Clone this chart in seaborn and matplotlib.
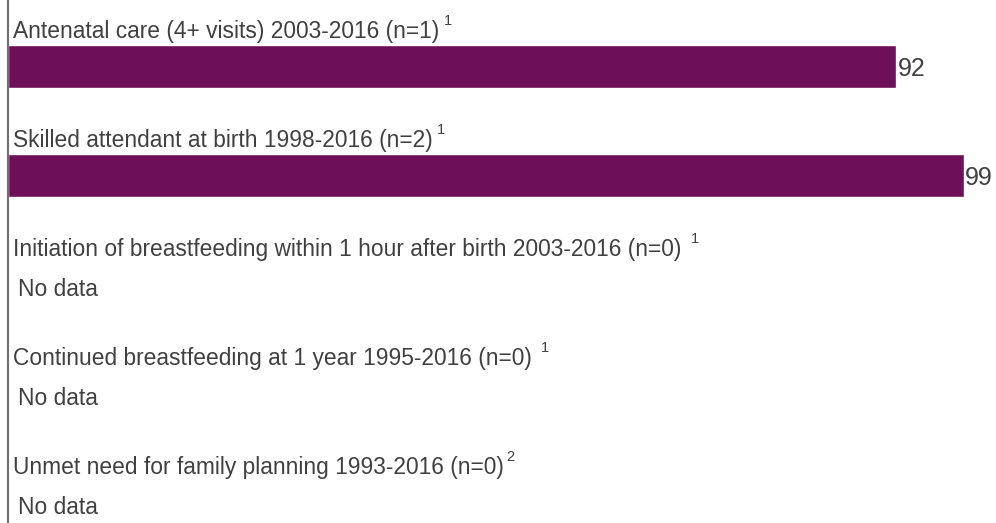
import matplotlib
matplotlib.use("Agg")
import matplotlib.pyplot as plt
import numpy as np
import pandas as pd
import seaborn as sns

# ---- data ----
indicators = [
    "Antenatal care (4+ visits) 2003-2016 (n=1)",
    "Skilled attendant at birth 1998-2016 (n=2)",
    "Initiation of breastfeeding within 1 hour after birth 2003-2016 (n=0)",
    "Continued breastfeeding at 1 year 1995-2016 (n=0)",
    "Unmet need for family planning 1993-2016 (n=0)",
]
notes = ["1", "1", "1", "1", "2"]
values = [92, 99, np.nan, np.nan, np.nan]

# style
note_gap_px = [5, 4, 9, 9, 2]
BAR_COLOR = "#6E1059"
TEXT_COLOR = "#404040"
PX = 0.72  # points per pixel at dpi 100

sns.set_theme(style="white")
plt.rcParams["font.family"] = ["Liberation Sans", "DejaVu Sans"]

df = pd.DataFrame({"indicator": indicators, "value": values})

fig = plt.figure(figsize=(9.96, 5.23), dpi=100)
ax = fig.add_axes([8 / 996, 0, 1 - 8 / 996, 1])

sns.barplot(data=df, x="value", y="indicator", order=indicators, color=BAR_COLOR,
            saturation=1, width=0.394, orient="h", ax=ax)

ax.set_xlim(0, 102.35)
ax.set_ylim(4.188, -0.610)
ax.set_xticks([])
ax.set_yticks([])
ax.set_xlabel("")
ax.set_ylabel("")
for s in ["top", "right", "bottom"]:
    ax.spines[s].set_visible(False)
ax.spines["left"].set_color("#6f6f6f")
ax.spines["left"].set_linewidth(1.5)

labels = []
for i, (lab, v) in enumerate(zip(indicators, values)):
    t = ax.annotate(lab, xy=(0, i - 0.2615), xytext=(5 * PX, 0),
                    textcoords="offset points", ha="left", va="baseline",
                    fontsize=16.4, color=TEXT_COLOR)
    labels.append(t)
    if np.isnan(v):
        ax.annotate("No data", xy=(0, i + 0.105), xytext=(10.5 * PX, 0),
                    textcoords="offset points", ha="left", va="baseline",
                    fontsize=16.4, color=TEXT_COLOR)
    else:
        ax.annotate(f"{v:g}", xy=(v, i + 0.085), xytext=(1.5 * PX, 0),
                    textcoords="offset points", ha="left", va="baseline",
                    fontsize=18, color=TEXT_COLOR)

# superscript footnote markers after each label
fig.canvas.draw()
renderer = fig.canvas.get_renderer()
for i, (t, note, gap) in enumerate(zip(labels, notes, note_gap_px)):
    bb = t.get_window_extent(renderer)
    base_y = ax.transData.transform((0, i - 0.2615))[1]
    ax.annotate(note, xy=(bb.x1 + gap, base_y + 13), xycoords="figure pixels",
                ha="left", va="baseline", fontsize=10.5, color=TEXT_COLOR)

fig.savefig("out.png", dpi=100)
